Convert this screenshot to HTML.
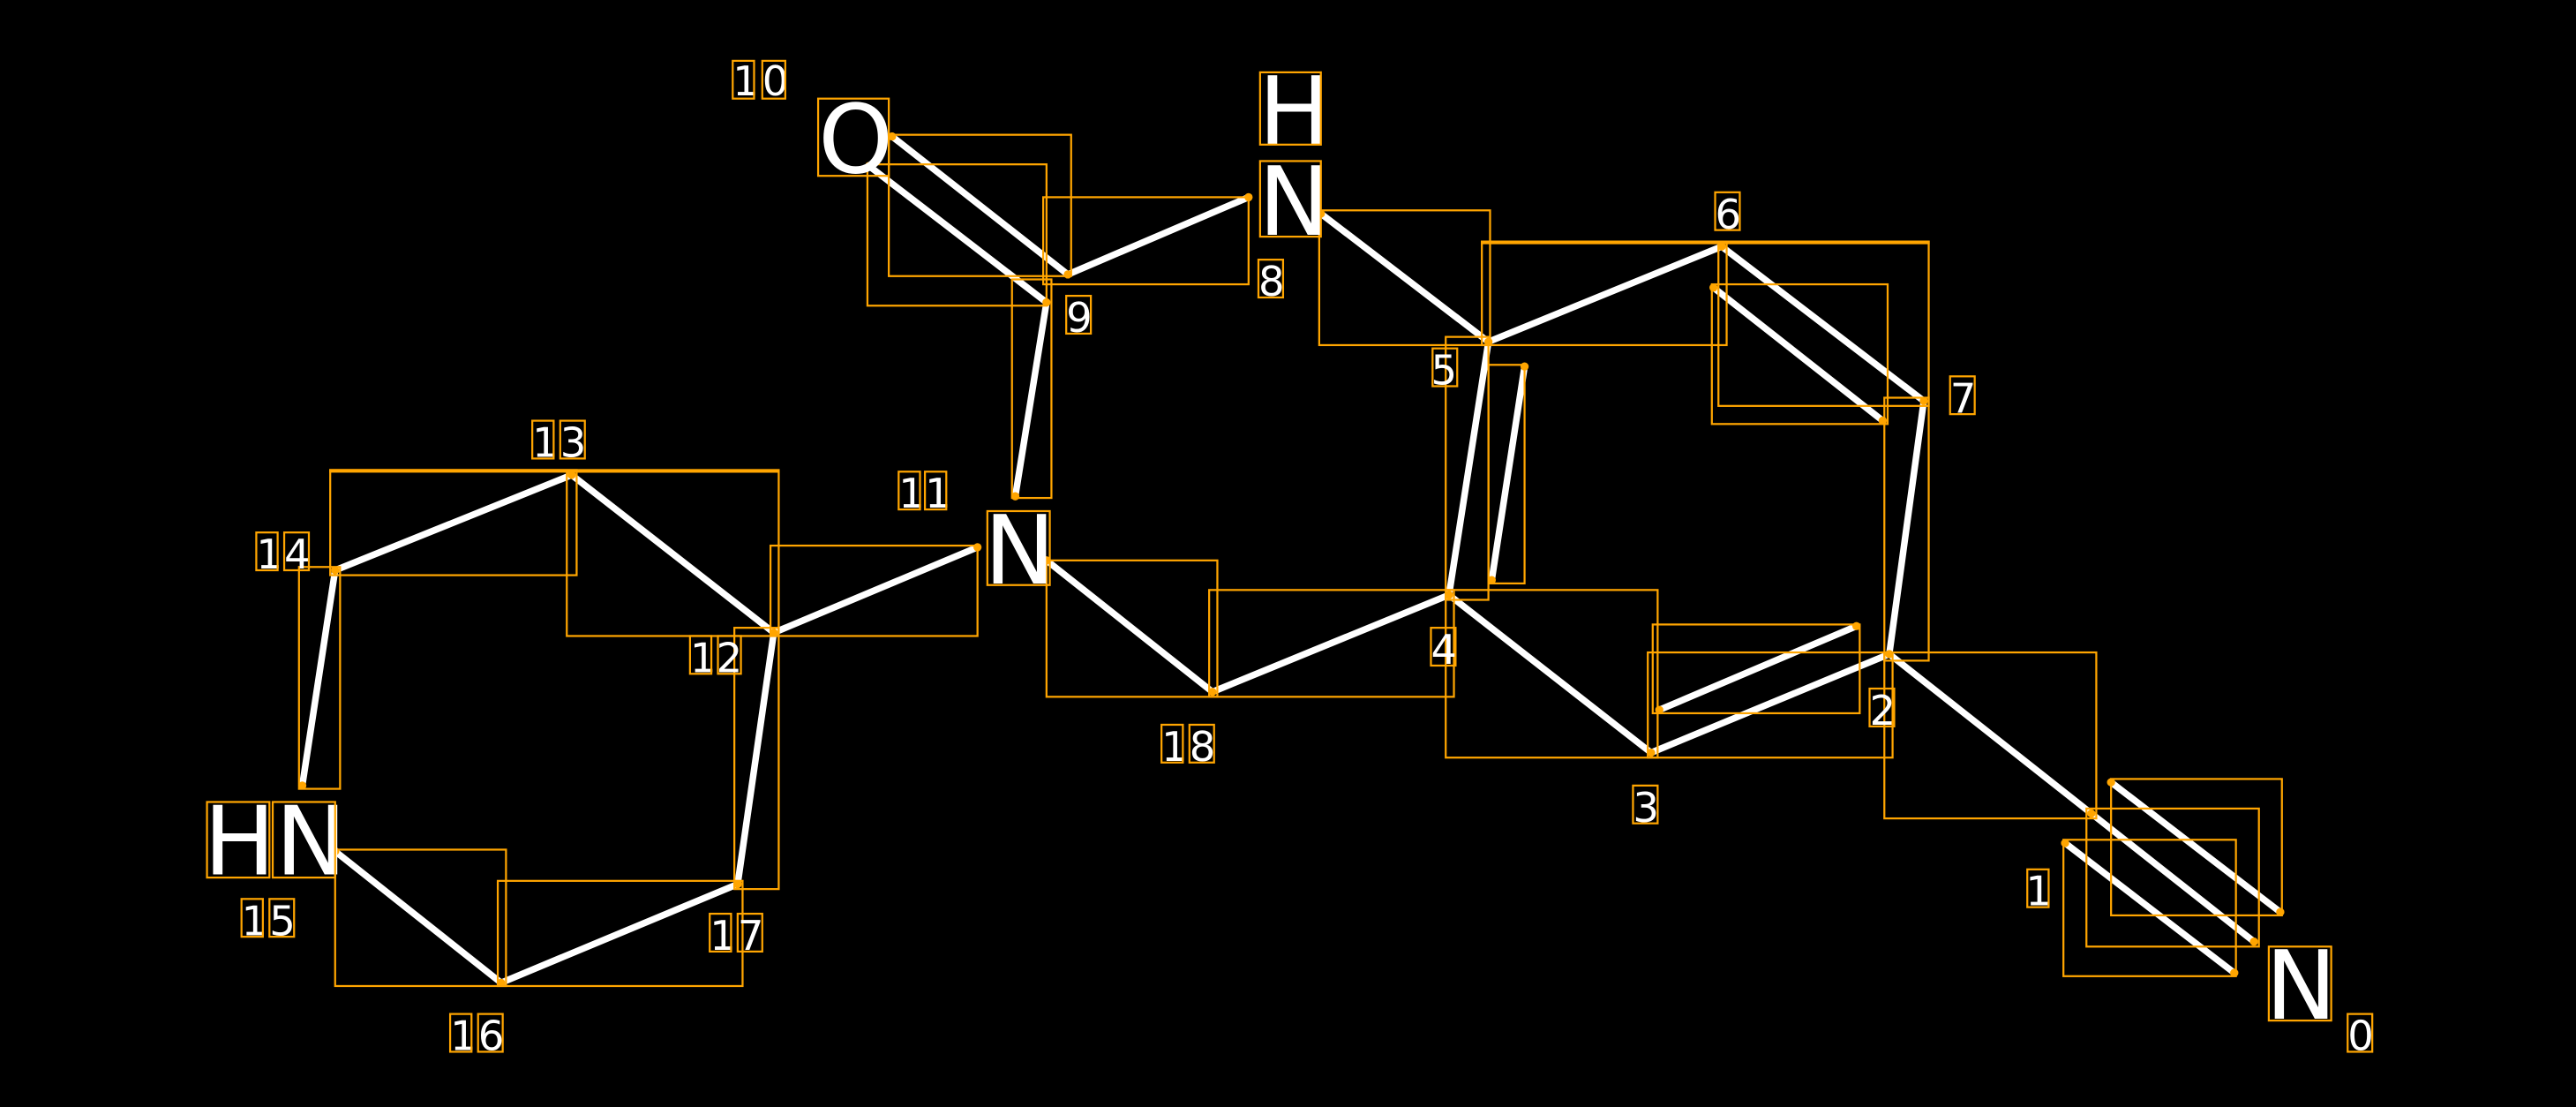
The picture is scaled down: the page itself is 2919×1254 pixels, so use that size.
<!DOCTYPE html>
<html><head><meta charset="utf-8"><style>
html,body{margin:0;padding:0;background:#000;width:2919px;height:1254px;overflow:hidden}
svg{display:block}
.b{stroke:#fff;stroke-width:4;stroke-linecap:round}
.r{fill:none;stroke:#ffa500;stroke-width:1.2}
.d{fill:#ffa500}
.t{fill:#fff;font-family:"DejaVu Sans","Liberation Sans",sans-serif}
.s{font-size:25px}
.L{font-size:58px}
</style></head><body>
<svg width="2919" height="1254" viewBox="0 0 1568 673.6" xmlns="http://www.w3.org/2000/svg">
<rect width="1568" height="673.6" fill="#000"/>
<g>
<line class="b" x1="543" y1="83" x2="650" y2="167"/>
<line class="b" x1="529" y1="101" x2="637" y2="184"/>
<line class="b" x1="650" y1="167" x2="760" y2="120"/>
<line class="b" x1="637" y1="184" x2="618" y2="302"/>
<line class="b" x1="637" y1="341" x2="738" y2="421"/>
<line class="b" x1="738" y1="421" x2="882" y2="362"/>
<line class="b" x1="882" y1="362" x2="906" y2="208"/>
<line class="b" x1="908" y1="353" x2="928" y2="223"/>
<line class="b" x1="906" y1="208" x2="804" y2="130"/>
<line class="b" x1="906" y1="208" x2="1048" y2="150"/>
<line class="b" x1="1048" y1="150" x2="1171" y2="244"/>
<line class="b" x1="1043" y1="175" x2="1146" y2="256"/>
<line class="b" x1="1171" y1="244" x2="1150" y2="398"/>
<line class="b" x1="1150" y1="398" x2="1005" y2="458"/>
<line class="b" x1="1010" y1="432" x2="1130" y2="381"/>
<line class="b" x1="1005" y1="458" x2="882" y2="362"/>
<line class="b" x1="1150" y1="398" x2="1273" y2="495"/>
<line class="b" x1="1285" y1="476" x2="1388" y2="555"/>
<line class="b" x1="1273" y1="495" x2="1372" y2="573"/>
<line class="b" x1="1257" y1="513" x2="1360" y2="592"/>
<line class="b" x1="595" y1="333" x2="471" y2="385"/>
<line class="b" x1="471" y1="385" x2="348" y2="289"/>
<line class="b" x1="348" y1="289" x2="204" y2="347"/>
<line class="b" x1="204" y1="347" x2="184" y2="478"/>
<line class="b" x1="204" y1="518" x2="305" y2="598"/>
<line class="b" x1="305" y1="598" x2="449" y2="538"/>
<line class="b" x1="449" y1="538" x2="471" y2="385"/>
</g>
<g>
<rect class="r" x="541" y="82" width="111" height="86"/>
<rect class="r" x="528" y="100" width="109" height="86"/>
<rect class="r" x="635" y="120" width="125" height="53"/>
<rect class="r" x="616" y="170" width="24" height="133"/>
<rect class="r" x="637" y="341" width="104" height="83"/>
<rect class="r" x="736" y="359" width="149" height="65"/>
<rect class="r" x="880" y="205" width="26" height="160"/>
<rect class="r" x="906" y="222" width="22" height="133"/>
<rect class="r" x="803" y="128" width="104" height="82"/>
<rect class="r" x="902" y="147" width="149" height="63"/>
<rect class="r" x="1046" y="147" width="128" height="100"/>
<rect class="r" x="902" y="147" width="272" height="1"/>
<rect class="r" x="1042" y="173" width="107" height="85"/>
<rect class="r" x="1147" y="242" width="27" height="160"/>
<rect class="r" x="1003" y="397" width="149" height="64"/>
<rect class="r" x="1006" y="380" width="126" height="54"/>
<rect class="r" x="880" y="359" width="129" height="102"/>
<rect class="r" x="1147" y="397" width="129" height="101"/>
<rect class="r" x="1285" y="474" width="104" height="83"/>
<rect class="r" x="1270" y="492" width="105" height="84"/>
<rect class="r" x="1256" y="511" width="105" height="83"/>
<rect class="r" x="469" y="332" width="126" height="55"/>
<rect class="r" x="345" y="287" width="129" height="100"/>
<rect class="r" x="201" y="286" width="273" height="1"/>
<rect class="r" x="201" y="286" width="150" height="64"/>
<rect class="r" x="182" y="345" width="25" height="135"/>
<rect class="r" x="204" y="517" width="104" height="83"/>
<rect class="r" x="303" y="536" width="149" height="64"/>
<rect class="r" x="447" y="382" width="27" height="159"/>
</g>
<g class="d">
<circle cx="543" cy="83" r="2.5"/><circle cx="650" cy="167" r="2.5"/><circle cx="529" cy="101" r="2.5"/><circle cx="637" cy="184" r="2.5"/>
<circle cx="760" cy="120" r="2.5"/><circle cx="618" cy="302" r="2.5"/><circle cx="637" cy="341" r="2.5"/><circle cx="738" cy="421" r="2.5"/>
<circle cx="882" cy="362" r="2.5"/><circle cx="906" cy="208" r="2.5"/><circle cx="908" cy="353" r="2.5"/><circle cx="928" cy="223" r="2.5"/>
<circle cx="804" cy="130" r="2.5"/><circle cx="1048" cy="150" r="2.5"/><circle cx="1171" cy="244" r="2.5"/><circle cx="1043" cy="175" r="2.5"/>
<circle cx="1146" cy="256" r="2.5"/><circle cx="1150" cy="398" r="2.5"/><circle cx="1005" cy="458" r="2.5"/><circle cx="1010" cy="432" r="2.5"/>
<circle cx="1130" cy="381" r="2.5"/><circle cx="1273" cy="495" r="2.5"/><circle cx="1285" cy="476" r="2.5"/><circle cx="1388" cy="555" r="2.5"/>
<circle cx="1372" cy="573" r="2.5"/><circle cx="1257" cy="513" r="2.5"/><circle cx="1360" cy="592" r="2.5"/><circle cx="595" cy="333" r="2.5"/>
<circle cx="471" cy="385" r="2.5"/><circle cx="348" cy="289" r="2.5"/><circle cx="204" cy="347" r="2.5"/><circle cx="184" cy="478" r="2.5"/>
<circle cx="204" cy="518" r="2.5"/><circle cx="305" cy="598" r="2.5"/><circle cx="449" cy="538" r="2.5"/>
</g>
<!-- big atom labels -->
<g>
<text class="t L" x="498" y="105">O</text><rect class="r" x="498" y="60" width="43" height="47"/>
<text class="t L" x="766" y="88">H</text><rect class="r" x="767" y="44" width="37" height="44"/>
<text class="t L" x="766" y="143">N</text><rect class="r" x="767" y="98" width="37" height="46"/>
<text class="t L" x="599" y="355">N</text><rect class="r" x="601" y="311" width="38" height="45"/>
<text class="t L" x="124" y="532">HN</text><rect class="r" x="126" y="488" width="38" height="46"/><rect class="r" x="166" y="488" width="38" height="46"/>
<text class="t L" x="1379" y="620">N</text><rect class="r" x="1381" y="576" width="38" height="45"/>
</g>
<!-- index labels -->
<g>
<text class="t s" x="446" y="58">1</text><rect class="r" x="446" y="37" width="13" height="23"/>
<text class="t s" x="464" y="58">0</text><rect class="r" x="464" y="37" width="14" height="23"/>
<text class="t s" x="649" y="202">9</text><rect class="r" x="649" y="180" width="15" height="23"/>
<text class="t s" x="766" y="180">8</text><rect class="r" x="766" y="158" width="15" height="23"/>
<text class="t s" x="871" y="234">5</text><rect class="r" x="872" y="212" width="15" height="23"/>
<text class="t s" x="1044" y="139">6</text><rect class="r" x="1044" y="117" width="15" height="23"/>
<text class="t s" x="1187" y="251">7</text><rect class="r" x="1187" y="229" width="15" height="23"/>
<text class="t s" x="871" y="404">4</text><rect class="r" x="871" y="382" width="15" height="23"/>
<text class="t s" x="1138" y="441">2</text><rect class="r" x="1138" y="419" width="15" height="23"/>
<text class="t s" x="994" y="500">3</text><rect class="r" x="994" y="478" width="15" height="23"/>
<text class="t s" x="1233" y="551">1</text><rect class="r" x="1234" y="529" width="13" height="23"/>
<text class="t s" x="1429" y="639">0</text><rect class="r" x="1429" y="617" width="15" height="23"/>
<text class="t s" x="547" y="309">1</text><rect class="r" x="547" y="287" width="13" height="23"/>
<text class="t s" x="563" y="309">1</text><rect class="r" x="563" y="287" width="13" height="23"/>
<text class="t s" x="420" y="409">1</text><rect class="r" x="420" y="387" width="13" height="23"/>
<text class="t s" x="436" y="409">2</text><rect class="r" x="437" y="387" width="14" height="23"/>
<text class="t s" x="324" y="278">1</text><rect class="r" x="324" y="256" width="13" height="23"/>
<text class="t s" x="341" y="278">3</text><rect class="r" x="341" y="256" width="15" height="23"/>
<text class="t s" x="156" y="346">1</text><rect class="r" x="156" y="324" width="13" height="23"/>
<text class="t s" x="173" y="346">4</text><rect class="r" x="173" y="324" width="15" height="23"/>
<text class="t s" x="147" y="569">1</text><rect class="r" x="147" y="547" width="13" height="23"/>
<text class="t s" x="164" y="569">5</text><rect class="r" x="164" y="547" width="15" height="23"/>
<text class="t s" x="274" y="639">1</text><rect class="r" x="274" y="617" width="13" height="23"/>
<text class="t s" x="291" y="639">6</text><rect class="r" x="291" y="617" width="15" height="23"/>
<text class="t s" x="432" y="578">1</text><rect class="r" x="432" y="556" width="13" height="23"/>
<text class="t s" x="449" y="578">7</text><rect class="r" x="449" y="556" width="15" height="23"/>
<text class="t s" x="707" y="463">1</text><rect class="r" x="707" y="441" width="13" height="23"/>
<text class="t s" x="724" y="463">8</text><rect class="r" x="724" y="441" width="15" height="23"/>
</g>
</svg>
</body></html>
